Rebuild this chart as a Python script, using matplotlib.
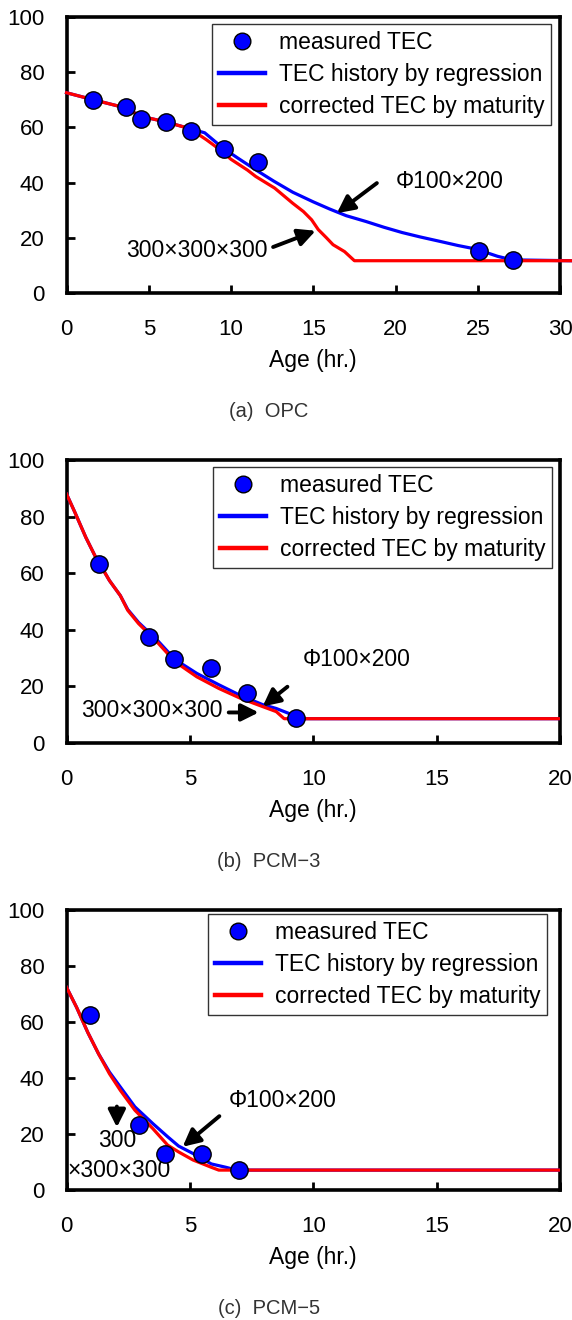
import matplotlib
matplotlib.use('Agg')
import matplotlib.pyplot as plt
from matplotlib.lines import Line2D

plt.rcParams['font.family'] = ['Liberation Sans', 'DejaVu Sans']

# (a) OPC
opc_meas_x = [1.6, 3.6, 4.55, 6.05, 7.55, 9.6, 11.65, 25.1, 27.15]
opc_meas_y = [69.9, 67.3, 62.9, 61.9, 58.8, 52.3, 47.6, 15.1, 12.0]
opc_reg_x = [0, 1.6, 3.6, 4.5, 6.0, 7.5, 8.4, 9.5, 10.5, 11.5, 12.6, 13.75, 15.0,
             16.0, 17.0, 18.2, 19.3, 20.4, 21.5, 22.7, 23.8, 24.9, 25.6, 26.2, 27.1, 30.7]
opc_reg_y = [72.5, 70.0, 67.0, 64.0, 62.0, 59.5, 58.0, 52.5, 48.5, 44.6, 40.5, 36.5, 33.0,
             30.4, 28.0, 25.9, 23.8, 21.9, 20.3, 18.7, 17.2, 15.9, 14.5, 13.3, 12.0, 11.7]
opc_cor_x = [0, 1.6, 3.6, 4.5, 6.0, 7.5, 8.0, 8.5, 9.3, 10.0, 11.0, 11.5, 12.65, 13.75,
             14.4, 14.9, 15.3, 15.8, 16.2, 16.9, 17.5, 30.7]
opc_cor_y = [72.5, 70.0, 67.0, 64.0, 62.0, 59.5, 57.5, 55.5, 52.0, 48.4, 44.5, 42.2, 38.0, 32.5,
             29.5, 26.5, 23.0, 20.0, 17.5, 15.0, 11.7, 11.7]

# (b) PCM-3
pcm3_meas_x = [1.3, 3.36, 4.34, 5.84, 7.32, 9.29]
pcm3_meas_y = [63.1, 37.3, 29.8, 26.4, 17.6, 8.7]
pcm3_reg_x = [0, 0.34, 0.78, 1.15, 1.74, 2.18, 2.48, 2.92, 3.66, 4.4, 5.28, 6.17, 7.05,
              7.94, 8.5, 9.0, 9.3, 20]
pcm3_reg_y = [88, 81.5, 72.7, 66.2, 57.4, 52.1, 47.2, 42.6, 36.5, 29.5, 24.6, 20.6, 16.8,
              13.6, 12.2, 10.5, 8.6, 8.6]
pcm3_cor_x = [0, 0.34, 0.78, 1.15, 1.74, 2.18, 2.48, 2.92, 3.66, 4.4, 5.28, 6.17, 7.05,
              7.94, 8.5, 8.82, 20]
pcm3_cor_y = [88, 81.5, 72.7, 66.2, 57.4, 52.1, 46.9, 42.2, 35.8, 28.7, 23.4, 19.3, 15.8,
              12.9, 11.1, 8.6, 8.6]

# (c) PCM-5
pcm5_meas_x = [0.94, 2.94, 4.0, 5.47, 6.98]
pcm5_meas_y = [62.6, 23.1, 13.0, 12.7, 7.1]
pcm5_reg_x = [0, 0.41, 0.86, 1.3, 1.74, 2.18, 2.77, 3.5, 4.1, 4.54, 5.13, 5.87, 6.46, 6.9, 20]
pcm5_reg_y = [72.4, 65.2, 56.3, 48.6, 42.1, 36.8, 29.7, 23.7, 19.0, 15.7, 13.0, 9.3, 8.1, 7.1, 7.1]
pcm5_cor_x = [0, 0.41, 0.86, 1.3, 1.74, 2.18, 2.77, 3.5, 4.1, 4.54, 5.13, 5.87, 6.17, 20]
pcm5_cor_y = [72.4, 65.2, 56.3, 48.6, 41.5, 35.6, 28.5, 21.9, 16.0, 13.6, 10.7, 8.1, 7.1, 7.1]

legend_labels = ['measured TEC', 'TEC history by regression', 'corrected TEC by maturity']
captions = ['(a)  OPC', '(b)  PCM\u22123', '(c)  PCM\u22125']

FS = 16.5
TICK_FS = 16


def style_axes(ax, xmax, xstep):
    """ Axis frame, ticks and labels like the old Excel chart """
    ax.set_xlim(0, xmax)
    ax.set_ylim(0, 100)
    ax.set_xticks(range(0, xmax + 1, xstep))
    ax.set_yticks(range(0, 101, 20))
    for s in ax.spines.values():
        s.set_linewidth(2.6)
    ax.tick_params(direction='in', length=6, width=2, labelsize=TICK_FS, pad=16)
    ax.tick_params(axis='x', pad=19)
    ax.set_xlabel('Age (hr.)', fontsize=FS, labelpad=6)


def plot_panel(ax, mx, my, rx, ry, cx, cy, xmax, xstep, legend_anchor, clip=True):
    """ Draws one panel: regression line, corrected line and measured points """
    ax.plot(rx, ry, color='#0000ff', lw=2.3, clip_on=clip, zorder=3)
    ax.plot(cx, cy, color='#ff0000', lw=2.3, clip_on=clip, zorder=4)
    ax.plot(mx, my, 'o', ms=12.5, mfc='#0000ff', mec='black', mew=1.0, zorder=5)
    style_axes(ax, xmax, xstep)

    handles = [Line2D([], [], marker='o', ls='', ms=12, mfc='#0000ff', mec='black', mew=1.0),
               Line2D([], [], color='#0000ff', lw=3.2),
               Line2D([], [], color='#ff0000', lw=3.2)]
    leg = ax.legend(handles, legend_labels, loc='upper right', bbox_to_anchor=legend_anchor,
                    fontsize=FS, frameon=True, fancybox=False, borderaxespad=0,
                    borderpad=0.3, labelspacing=0.4, handlelength=2.0, handletextpad=0.6)
    leg.get_frame().set_edgecolor('black')
    leg.get_frame().set_linewidth(1.0)


def arrow(ax, start, end):
    ax.annotate('', xy=end, xytext=start,
                arrowprops=dict(arrowstyle='-|>', color='black', lw=2.8, mutation_scale=26))


def main():
    fig = plt.figure(figsize=(5.72, 13.2), dpi=100)
    ax_a = fig.add_axes([0.1163, 0.7780, 0.8628, 0.2093])
    ax_b = fig.add_axes([0.1163, 0.4371, 0.8628, 0.2144])
    ax_c = fig.add_axes([0.1163, 0.0985, 0.8628, 0.2121])

    plot_panel(ax_a, opc_meas_x, opc_meas_y, opc_reg_x, opc_reg_y, opc_cor_x, opc_cor_y,
               30, 5, (0.982, 0.974), clip=False)
    plot_panel(ax_b, pcm3_meas_x, pcm3_meas_y, pcm3_reg_x, pcm3_reg_y, pcm3_cor_x, pcm3_cor_y,
               20, 5, (0.984, 0.975))
    plot_panel(ax_c, pcm5_meas_x, pcm5_meas_y, pcm5_reg_x, pcm5_reg_y, pcm5_cor_x, pcm5_cor_y,
               20, 5, (0.974, 0.986))

    # annotations
    ax_a.text(23.3, 40.4, '\u03a6100\u00d7200', fontsize=FS, ha='center', va='center')
    arrow(ax_a, (19.0, 40.4), (16.3, 28.3))
    ax_a.text(7.9, 15.4, '300\u00d7300\u00d7300', fontsize=FS, ha='center', va='center')
    arrow(ax_a, (12.4, 16.3), (15.3, 22.9))

    ax_b.text(11.75, 29.5, '\u03a6100\u00d7200', fontsize=FS, ha='center', va='center')
    arrow(ax_b, (9.04, 20.5), (7.86, 12.3))
    ax_b.text(3.45, 11.5, '300\u00d7300\u00d7300', fontsize=FS, ha='center', va='center')
    arrow(ax_b, (6.46, 10.8), (7.9, 10.8))

    ax_c.text(8.75, 31.8, '\u03a6100\u00d7200', fontsize=FS, ha='center', va='center')
    arrow(ax_c, (6.28, 27.0), (4.62, 14.8))
    arrow(ax_c, (2.04, 30.8), (2.04, 21.4))
    ax_c.text(2.06, 17.6, '300', fontsize=FS, ha='center', va='center')
    ax_c.text(0.04, 7.1, '\u00d7300\u00d7300', fontsize=FS, ha='left', va='center')

    for y, cap in zip([0.688, 0.347, 0.009], captions):
        fig.text(0.470, y, cap, fontsize=14.5, color='#333333', ha='center', va='center')

    fig.savefig('out.png', dpi=100)


if __name__ == '__main__':
    main()
